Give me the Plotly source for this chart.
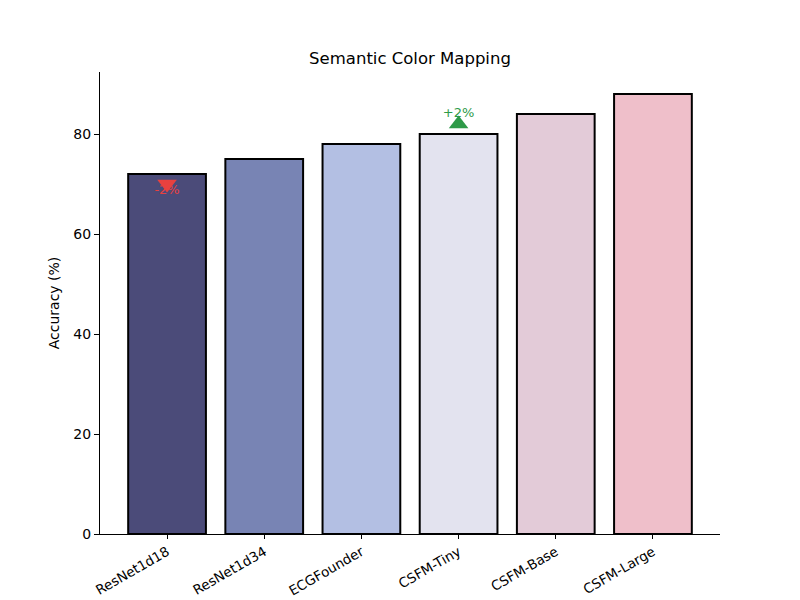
import plotly.graph_objects as go

models = ["ResNet1d18", "ResNet1d34", "ECGFounder", "CSFM-Tiny", "CSFM-Base", "CSFM-Large"]
accuracy = [72, 75, 78, 80, 84, 88]
bar_colors = ["#4b4b79", "#7884b4", "#b3bfe3", "#e3e3ef", "#e3cbd8", "#efbfca"]

down_model = "ResNet1d18"
down_marker_y = 70
down_text_y = 68.6
down_label = "-2%"

up_model = "CSFM-Tiny"
up_marker_y = 82
up_text_y = 84
up_label = "+2%"

xi = list(range(len(models)))
fig = go.Figure()
fig.add_trace(go.Bar(
    x=xi, y=accuracy, width=0.8,
    marker=dict(color=bar_colors, line=dict(color="black", width=2)),
    showlegend=False, hoverinfo="skip",
))
di = models.index(down_model)
ui = models.index(up_model)
fig.add_trace(go.Scatter(
    x=[di], y=[down_marker_y], mode="markers",
    marker=dict(symbol="triangle-down", size=17, color="#e8413f"),
    showlegend=False,
))
fig.add_trace(go.Scatter(
    x=[ui], y=[up_marker_y], mode="markers",
    marker=dict(symbol="triangle-up", size=17, color="#2e9a48"),
    showlegend=False,
))
fig.add_trace(go.Scatter(
    x=[di], y=[down_text_y], mode="text", text=[down_label],
    textfont=dict(color="#e8413f", size=13, family="DejaVu Sans"),
    showlegend=False,
))
fig.add_trace(go.Scatter(
    x=[ui], y=[up_text_y], mode="text", text=[up_label],
    textfont=dict(color="#2e9a48", size=13, family="DejaVu Sans"),
    showlegend=False,
))

fig.update_layout(
    width=800, height=600,
    margin=dict(l=100, r=80, t=72, b=66),
    plot_bgcolor="white", paper_bgcolor="white",
    font=dict(family="DejaVu Sans", size=14, color="black"),
    title=dict(text="Semantic Color Mapping", x=0.5, xref="paper", xanchor="center",
               y=1 - 58 / 600, yanchor="middle", font=dict(size=16.5)),
    xaxis=dict(
        range=[-0.69, 5.69], tickmode="array", tickvals=xi, ticktext=models,
        tickangle=-30, showline=True, linecolor="black", linewidth=1,
        ticks="outside", ticklen=4, tickcolor="black", showgrid=False, zeroline=False,
        automargin=False, tickfont=dict(size=13.5),
    ),
    yaxis=dict(
        range=[0, 92.4], tickvals=[0, 20, 40, 60, 80],
        showline=True, linecolor="black", linewidth=1,
        ticks="outside", ticklen=5, tickcolor="black", showgrid=False, zeroline=False,
        automargin=False, tickfont=dict(size=14),
        title=dict(text="Accuracy (%)", standoff=10, font=dict(size=14)),
    ),
)
fig.write_html("out.html")
